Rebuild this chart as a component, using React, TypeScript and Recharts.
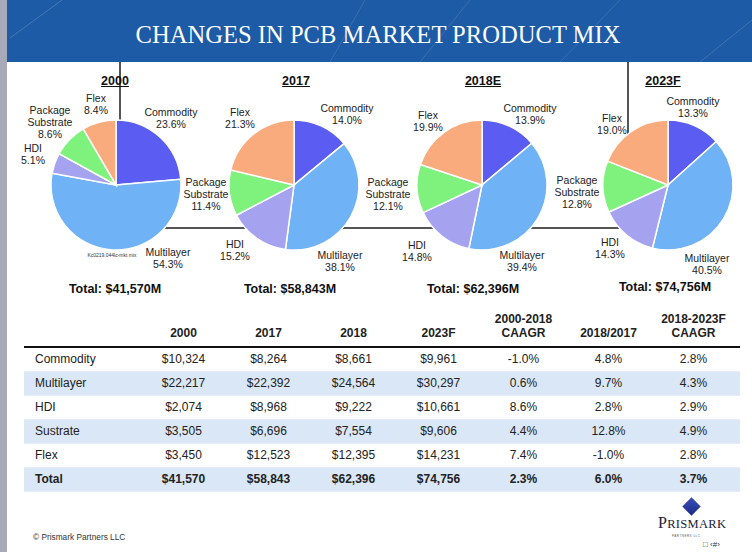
import React from 'react';
import { Cell, Pie, PieChart } from 'recharts';

// pie shares (%), slice order clockwise from 12 o'clock
const segments = ['Commodity', 'Multilayer', 'HDI', 'Package Substrate', 'Flex'];
const segmentColors = ['#5a5cf2', '#70b2f6', '#a5a3ef', '#7ef27c', '#f9ab7d'];
const years = ['2000', '2017', '2018E', '2023F'];
const share2000 = [23.6, 54.3, 5.1, 8.6, 8.4];
const share2017 = [14.0, 38.1, 15.2, 11.4, 21.3];
const share2018 = [13.9, 39.4, 14.8, 12.1, 19.9];
const share2023 = [13.3, 40.5, 14.3, 12.8, 19.0];
const totals = ['$41,570M', '$58,843M', '$62,396M', '$74,756M'];

// table
const tableColumns = ['2000', '2017', '2018', '2023F', '2000-2018|CAAGR', '2018/2017', '2018-2023F|CAAGR'];
const tableRows = ['Commodity', 'Multilayer', 'HDI', 'Sustrate', 'Flex', 'Total'];
const col2000 = ['$10,324', '$22,217', '$2,074', '$3,505', '$3,450', '$41,570'];
const col2017 = ['$8,264', '$22,392', '$8,968', '$6,696', '$12,523', '$58,843'];
const col2018 = ['$8,661', '$24,564', '$9,222', '$7,554', '$12,395', '$62,396'];
const col2023 = ['$9,961', '$30,297', '$10,661', '$9,606', '$14,231', '$74,756'];
const caagr0018 = ['-1.0%', '0.6%', '8.6%', '4.4%', '7.4%', '2.3%'];
const growth1817 = ['4.8%', '9.7%', '2.8%', '12.8%', '-1.0%', '6.0%'];
const caagr1823 = ['2.8%', '4.3%', '2.9%', '4.9%', '2.8%', '3.7%'];

const shares = [share2000, share2017, share2018, share2023];
const tableCols = [col2000, col2017, col2018, col2023, caagr0018, growth1817, caagr1823];

const FONT = '"Liberation Sans", Arial, sans-serif';
const PIE_CY = 185;
const PIE_R = 65;

// where each pie sits and where its labels go (offset from centre)
const pieLayout = [
  { cx: 116, titleX: 115, totalX: 115, totalY: 290, labels: [[55, -73], [52, 67], [-83, -37], [-66, -75], [-20, -87]] },
  { cx: 294, titleX: 296, totalX: 290, totalY: 290, labels: [[53, -77], [46, 70], [-59, 59], [-88, -3], [-54, -73]] },
  { cx: 482, titleX: 483, totalX: 473, totalY: 290, labels: [[48, -77], [40, 70], [-65, 60], [-94, -3], [-54, -70]] },
  { cx: 668, titleX: 663, totalX: 665, totalY: 288, labels: [[25, -84], [39, 73], [-58, 57], [-91, -5], [-56, -67]] },
];

function sliceLabel(layout: (typeof pieLayout)[number]) {
  return (props: any) => {
    const index: number = props.index;
    const cx = props.cx ?? layout.cx;
    const cy = props.cy ?? PIE_CY;
    const [dx, dy] = layout.labels[index];
    const name = String(props.name ?? segments[index]);
    const lines = [...name.split(' '), `${Number(props.value).toFixed(1)}%`];
    return (
      <text
        key={`l-${index}`}
        textAnchor="middle"
        dominantBaseline="central"
        fontFamily={FONT}
        fontSize={10.5}
        fill="#222"
      >
        {lines.map((line, i) => (
          <tspan key={i} x={cx + dx} y={cy + dy + i * 12}>
            {line}
          </tspan>
        ))}
      </text>
    );
  };
}

function Abs({ style, children }: { style: React.CSSProperties; children?: React.ReactNode }) {
  return <div style={{ position: 'absolute', ...style }}>{children}</div>;
}

function DataTable() {
  const cell: React.CSSProperties = { textAlign: 'center', padding: 0 };
  return (
    <table
      style={{
        position: 'absolute',
        left: 24,
        top: 305,
        width: 716,
        borderCollapse: 'collapse',
        tableLayout: 'fixed',
        fontFamily: FONT,
        fontSize: 12,
        color: '#222',
      }}
    >
      <colgroup>
        <col style={{ width: 117 }} />
        {tableColumns.map((c) => (
          <col key={c} style={{ width: 85 }} />
        ))}
        <col style={{ width: 4 }} />
      </colgroup>
      <thead>
        <tr style={{ height: 42, borderBottom: '2px solid #111' }}>
          <th />
          {tableColumns.map((c) => (
            <th key={c} style={{ ...cell, verticalAlign: 'bottom', paddingBottom: 6, lineHeight: '14px', fontWeight: 700 }}>
              {c.split('|').map((part, i) => (
                <div key={i}>{part}</div>
              ))}
            </th>
          ))}
          <th />
        </tr>
      </thead>
      <tbody>
        {tableRows.map((row, r) => {
          const bold = row === 'Total';
          return (
            <tr
              key={row}
              style={{
                height: 24,
                background: r % 2 === 1 ? '#dae7f6' : '#fff',
                borderBottom: '1px solid #e3ecf7',
                fontWeight: bold ? 700 : 400,
              }}
            >
              <td style={{ paddingLeft: 11 }}>{row}</td>
              {tableCols.map((col, c) => (
                <td key={c} style={cell}>
                  {col[r]}
                </td>
              ))}
              <td />
            </tr>
          );
        })}
      </tbody>
    </table>
  );
}

export default function App() {
  return (
    <div
      style={{
        position: 'absolute',
        left: 0,
        top: 0,
        width: 752,
        height: 552,
        overflow: 'hidden',
        background: '#fff',
        fontFamily: FONT,
      }}
    >
      {/* header band */}
      <Abs style={{ left: 0, top: 0, width: 752, height: 62, background: '#1d5ba6' }}>
        <svg width={752} height={62} style={{ position: 'absolute', left: 0, top: 0 }}>
          <line x1={10} y1={38} x2={62} y2={0} stroke="rgba(255,255,255,0.18)" strokeWidth={1} />
          <line x1={330} y1={62} x2={365} y2={0} stroke="rgba(255,255,255,0.12)" strokeWidth={1} />
          <line x1={420} y1={62} x2={470} y2={0} stroke="rgba(255,255,255,0.12)" strokeWidth={1} />
          <line x1={560} y1={62} x2={620} y2={0} stroke="rgba(255,255,255,0.12)" strokeWidth={1} />
          <line x1={700} y1={62} x2={752} y2={20} stroke="rgba(255,255,255,0.15)" strokeWidth={1} />
        </svg>
        <div
          style={{
            position: 'absolute',
            left: 0,
            width: 752,
            top: 20,
            textAlign: 'center',
            fontFamily: '"Liberation Serif", "Times New Roman", serif',
            fontSize: 24.6,
            color: '#fff',
            lineHeight: '30px',
            paddingLeft: 2,
          }}
        >
          CHANGES IN PCB MARKET PRODUCT MIX
        </div>
      </Abs>
      {/* left grey strip */}
      <Abs style={{ left: 0, top: 0, width: 7, height: 552, background: '#a8aab9' }} />

      {/* connector lines behind the pies */}
      <Abs style={{ left: 119, top: 62, width: 2, height: 60, background: '#555' }} />
      <Abs style={{ left: 627, top: 62, width: 2, height: 167, background: '#555' }} />
      <Abs style={{ left: 120, top: 227, width: 509, height: 2, background: '#555' }} />

      {/* year titles */}
      {years.map((y, i) => (
        <Abs
          key={y}
          style={{
            left: pieLayout[i].titleX - 40,
            width: 80,
            top: 74,
            textAlign: 'center',
            fontWeight: 700,
            fontSize: 12.5,
            textDecoration: 'underline',
            color: '#111',
          }}
        >
          {y}
        </Abs>
      ))}

      <Abs style={{ left: 0, top: 0 }}>
        <PieChart width={752} height={300} margin={{ top: 0, right: 0, bottom: 0, left: 0 }}>
          {shares.map((vals, i) => (
            <Pie
              key={years[i]}
              data={segments.map((name, k) => ({ name, value: vals[k] }))}
              dataKey="value"
              nameKey="name"
              cx={pieLayout[i].cx}
              cy={PIE_CY}
              outerRadius={PIE_R}
              startAngle={90}
              endAngle={-270}
              stroke="#fff"
              strokeWidth={1.5}
              label={sliceLabel(pieLayout[i])}
              labelLine={false}
              isAnimationActive={false}
            >
              {segments.map((s, k) => (
                <Cell key={s} fill={segmentColors[k]} />
              ))}
            </Pie>
          ))}
        </PieChart>
      </Abs>

      <Abs style={{ left: 72, top: 252, width: 80, textAlign: 'center', fontSize: 5, color: '#333' }}>
        Kc0219.044lc-mkt mix
      </Abs>

      {/* totals */}
      {totals.map((t, i) => (
        <Abs
          key={t}
          style={{
            left: pieLayout[i].totalX - 70,
            width: 140,
            top: pieLayout[i].totalY - 8,
            textAlign: 'center',
            fontWeight: 700,
            fontSize: 12.5,
            color: '#111',
          }}
        >
          Total: {t}
        </Abs>
      ))}

      <DataTable />

      {/* footer */}
      <Abs style={{ left: 33, top: 532, fontSize: 8.3, color: '#333' }}>© Prismark Partners LLC</Abs>
      <Abs
        style={{
          left: 685,
          top: 500,
          width: 13,
          height: 13,
          transform: 'rotate(45deg)',
          background: 'linear-gradient(135deg, #3b4fb8, #1a2a86)',
        }}
      />
      <Abs
        style={{
          left: 658,
          top: 514,
          fontFamily: '"Liberation Serif", "Times New Roman", serif',
          fontSize: 16,
          color: '#1a1a3a',
          letterSpacing: 0.3,
        }}
      >
        P<span style={{ fontSize: 12.5 }}>RISMARK</span>
      </Abs>
      <Abs style={{ left: 672, top: 534, fontSize: 3, color: '#555', letterSpacing: 0.5 }}>PARTNERS LLC</Abs>
      <Abs style={{ left: 703, top: 540, fontSize: 8, color: '#333' }}>□ ‹#›</Abs>
    </div>
  );
}
